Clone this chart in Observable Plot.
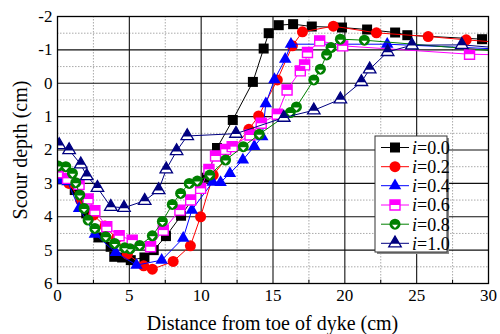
<!DOCTYPE html>
<html>
<head>
<meta charset="utf-8">
<script src="https://cdn.jsdelivr.net/npm/d3@7"></script>
<script src="https://cdn.jsdelivr.net/npm/@observablehq/plot@0.6"></script>
<style>
  html, body { margin: 0; padding: 0; background: #fff; }
  #chart { position: relative; width: 500px; height: 334px; }
  #ytitle { position: absolute; left: 20px; top: 149px; transform: translate(-50%, -50%) rotate(-90deg);
            white-space: nowrap; font-family: 'Liberation Serif', 'Times New Roman', serif; font-size: 20px; line-height: 1; color: #000; }
</style>
</head>
<body>
<div id="chart"><div id="ytitle"></div></div>
<script>
// ---- Data ----
const seriesNames = ["0.0", "0.2", "0.4", "0.6", "0.8", "1.0"];
const xTicks = [0, 5, 10, 15, 20, 25, 30];
const yTicks = [-2, -1, 0, 1, 2, 3, 4, 5, 6];
const xTitle = "Distance from toe of dyke (cm)";
const yTitle = "Scour depth (cm)";

const x00 = [0.2, 1.2, 2.0, 2.85, 3.7, 3.95, 4.5, 5.1, 6.05, 6.7, 7.55, 8.6, 10.4, 11.1, 12.2, 13.6, 14.35, 14.7, 15.4, 16.4, 17.7, 19.8, 21.55, 23.5, 24.35, 29.55];
const y00 = [2.88, 3.2, 3.9, 4.62, 4.9, 5.2, 5.22, 5.3, 5.22, 5.0, 4.58, 3.97, 2.83, 1.94, 1.1, -0.04, -1.04, -1.5, -1.74, -1.77, -1.7, -1.67, -1.61, -1.52, -1.44, -1.32];

const x02 = [0.1, 0.8, 1.6, 2.5, 3.3, 4.1, 4.86, 6.0, 6.6, 8.05, 9.25, 9.96, 10.84, 13.32, 14.0, 15.3, 16.35, 17.05, 19.2, 22.2, 25.8, 28.45, 31.5];
const y02 = [2.78, 3.0, 3.5, 3.95, 4.28, 4.65, 5.12, 5.47, 5.57, 5.34, 4.87, 4.0, 2.75, 1.38, 0.98, -0.1, -1.12, -1.54, -1.71, -1.51, -1.4, -1.3, -1.2];

const x04 = [0.1, 0.7, 1.5, 2.6, 4.05, 5.5, 7.25, 8.75, 9.35, 10.8, 11.35, 12.0, 12.9, 13.7, 14.25, 14.5, 15.1, 15.85, 16.25, 22.95, 31];
const y04 = [2.9, 2.95, 3.75, 4.52, 5.07, 5.45, 5.3, 4.64, 3.8, 2.96, 2.97, 2.7, 2.3, 1.89, 1.6, 0.61, -0.11, -0.72, -1.17, -1.17, -1.02];

const x06 = [0.05, 0.7, 1.5, 2.13, 2.6, 3.43, 4.29, 5.2, 6.48, 7.36, 8.52, 9.27, 9.96, 10.54, 11.0, 11.7, 12.16, 13.4, 14.18, 15.3, 15.98, 16.9, 17.2, 17.4, 18.25, 19.85, 28.68, 31];
const y06 = [2.68, 2.85, 3.03, 3.47, 3.82, 4.3, 4.57, 4.7, 4.9, 4.4, 3.8, 3.5, 3.15, 2.58, 2.18, 1.98, 1.9, 1.55, 1.2, 0.93, 0.2, -0.37, -0.55, -0.92, -1.27, -1.12, -0.87, -0.85];

const x08 = [0.05, 0.58, 1.04, 1.27, 1.55, 1.85, 2.13, 2.6, 3.36, 3.98, 4.68, 5.05, 5.72, 6.6, 7.3, 7.99, 8.57, 9.17, 9.73, 10.6, 11.7, 12.93, 14.04, 16.2, 16.63, 17.84, 18.3, 18.73, 19.04, 19.69, 21.36, 31];
const y08 = [2.48, 2.5, 2.7, 2.98, 3.35, 3.75, 4.1, 4.35, 4.6, 4.8, 4.93, 4.96, 4.86, 4.57, 4.14, 3.63, 3.3, 3.0, 2.93, 2.75, 2.3, 1.9, 1.53, 0.88, 0.71, -0.1, -0.42, -0.85, -1.07, -1.32, -1.29, -0.95];

const x10 = [0.12, 0.81, 1.62, 2.04, 2.78, 3.71, 4.63, 6.07, 7.04, 7.57, 8.29, 9.03, 12.42, 15.75, 17.84, 19.69, 21.15, 21.73, 22.98, 24.67, 28.14, 31];
const y10 = [1.85, 2.0, 2.43, 2.78, 3.13, 3.7, 3.73, 3.52, 3.2, 2.58, 2.03, 1.58, 1.51, 1.03, 0.81, 0.48, -0.04, -0.42, -0.94, -1.14, -1.15, -1.05];

const seriesX = [x00, x02, x04, x06, x08, x10];
const seriesY = [y00, y02, y04, y06, y08, y10];
const seriesColors = ["#000000", "#ff0000", "#0000ff", "#ff00ff", "#008000", "#000080"];

// ---- Custom marker shapes ----
const SQ = 10, CR = 5.5, TR = 12.5;
const square = {draw(c) { c.rect(-SQ/2, -SQ/2, SQ, SQ); }};
const squareTop = {draw(c) { c.rect(-SQ/2, -SQ/2, SQ, SQ/2); }};
const circle = {draw(c) { c.moveTo(CR, 0); c.arc(0, 0, CR, 0, 2 * Math.PI); }};
const chevron = {draw(c) { c.moveTo(-3, 0.5); c.lineTo(3, 0.5); c.lineTo(0, 3.8); c.closePath(); }};
const th = TR * Math.sqrt(3) / 2;
const triangle = {draw(c) { c.moveTo(0, -2*th/3); c.lineTo(TR/2, th/3); c.lineTo(-TR/2, th/3); c.closePath(); }};
const triTop = {draw(c) {
  const yb = th/3 - 3.2; const k = (yb + 2*th/3) / th;
  c.moveTo(0, -2*th/3); c.lineTo(k*TR/2, yb); c.lineTo(-k*TR/2, yb); c.closePath(); }};

// marker layers for each series: [symbol, fill, stroke, strokeWidth]
const markerLayers = [
  [[square, "#000000", "none", 0]],
  [[circle, "#ff0000", "none", 0]],
  [[triangle, "#0000ff", "none", 0]],
  [[square, "#ffffff", "#ff00ff", 1.4], [squareTop, "#ff00ff", "none", 0]],
  [[circle, "#008000", "none", 0], [chevron, "#ffffff", "none", 0]],
  [[triangle, "#ffffff", "#000080", 1.3], [triTop, "#000080", "none", 0]]
];

const x0 = 0, x1 = 30, yMin = -2, yMax = 6;
const minorX = d3.range(2.5, 30, 5);
const majorX = [5, 10, 15, 20, 25];
const minorY = d3.range(-1.5, 6, 1);
const majorY = [-1, 0, 1, 2, 3, 4, 5];
const serif = "'Liberation Serif', 'Times New Roman', serif";

const marks = [
  Plot.ruleX(minorX, {stroke: "#aaaaaa", strokeDasharray: "1.5,1.5", strokeWidth: 1}),
  Plot.ruleY(minorY, {stroke: "#aaaaaa", strokeDasharray: "1.5,1.5", strokeWidth: 1}),
  Plot.ruleX(majorX, {stroke: "#111", strokeWidth: 1.1}),
  Plot.ruleY(majorY, {stroke: "#111", strokeWidth: 1.1}),
  Plot.ruleX(minorX, {y1: yMax, y2: yMax - 0.1, stroke: "#000", strokeWidth: 1}),
];

seriesNames.forEach((name, i) => {
  const data = seriesX[i].map((x, j) => ({x, y: seriesY[i][j]}));
  marks.push(Plot.line(data, {x: "x", y: "y", stroke: seriesColors[i], strokeWidth: 1, clip: true}));
  markerLayers[i].forEach(([sym, fill, stroke, sw]) => {
    marks.push(Plot.dot(data, {x: "x", y: "y", symbol: sym, r: 5, fill, stroke, strokeWidth: sw, clip: true}));
  });
});

marks.push(
  Plot.frame({stroke: "#000", strokeWidth: 1.3}),
  Plot.axisX({ticks: xTicks, tickSize: 0, tickPadding: 5, fontSize: 17, fontFamily: serif, label: null, tickFormat: d => String(d)}),
  Plot.axisY({ticks: yTicks, tickSize: 0, tickPadding: 5, fontSize: 17, fontFamily: serif, label: null, tickFormat: d => String(d)})
);

const W = 500, H = 334, mL = 57, mR = 12, mT = 16, mB = 51;
const chart = Plot.plot({
  width: W,
  height: H,
  marginLeft: mL,
  marginRight: mR,
  marginTop: mT,
  marginBottom: mB,
  style: {fontFamily: serif, color: "#000", background: "#fff"},
  x: {type: "linear", domain: [x0, x1], ticks: xTicks},
  y: {type: "linear", domain: [yMin, yMax], reverse: true, ticks: yTicks},
  marks
});
const holder = document.getElementById("chart");
holder.insertBefore(chart, holder.firstChild);
const yDiv = document.getElementById("ytitle");
yDiv.textContent = yTitle;
yDiv.style.top = ((mT + H - mB) / 2) + "px";

const svg = d3.select(chart);
// ---- X axis title ----
svg.append("text").attr("font-family", serif).attr("font-size", 20).attr("fill", "#000")
  .attr("x", (mL + W - mR) / 2).attr("y", H - mB + 40).attr("dy", "0.35em")
  .attr("text-anchor", "middle").text(xTitle);

// ---- Legend ----
const lg = svg.append("g").attr("font-family", serif).attr("text-anchor", "start");
const bx = 375, by = 136, bw = 72, bh = 116;
lg.append("rect").attr("x", bx + 2).attr("y", by + 2).attr("width", bw).attr("height", bh).attr("fill", "#888");
lg.append("rect").attr("x", bx).attr("y", by).attr("width", bw).attr("height", bh).attr("fill", "#fff").attr("stroke", "#333").attr("stroke-width", 1);
const rowY = [147.5, 166.7, 185.7, 205, 224.2, 243.3];
seriesNames.forEach((name, i) => {
  const g = lg.append("g").attr("transform", `translate(0,${rowY[i]})`);
  g.append("line").attr("x1", 381).attr("x2", 409).attr("stroke", seriesColors[i]).attr("stroke-width", 1);
  markerLayers[i].forEach(([sym, fill, stroke, sw]) => {
    g.append("path").attr("transform", "translate(395,0)").attr("d", d3.symbol(sym)())
      .attr("fill", fill).attr("stroke", stroke).attr("stroke-width", sw);
  });
  const t = g.append("text").attr("x", 412).attr("y", 0).attr("dy", "0.35em").attr("font-size", 18).attr("fill", "#000").attr("text-anchor", "start");
  t.append("tspan").attr("font-style", "italic").text("i");
  t.append("tspan").text("=" + name);
});
</script>
</body>
</html>
